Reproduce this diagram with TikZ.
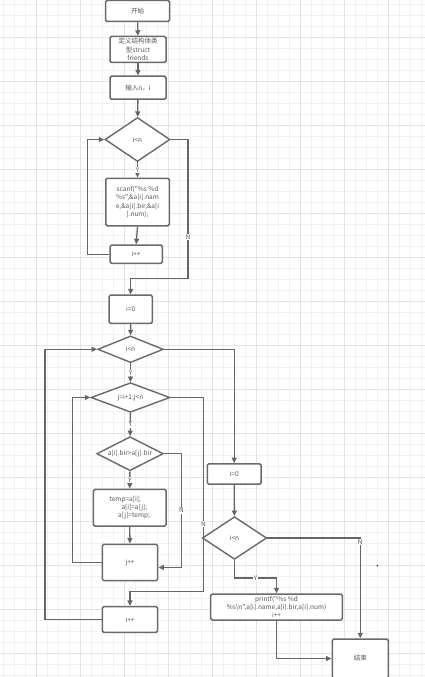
\documentclass[tikz,border=0pt]{standalone}
\usepackage{fontspec}
\newfontfamily\cjk{Noto Sans CJK SC}
\usepackage{xcolor}
\usepackage{tikz}
\usetikzlibrary{arrows.meta,positioning,shapes.geometric}
\definecolor{gridminor}{HTML}{F2F2F2}
\definecolor{gridmajor}{HTML}{E4E4E4}
\definecolor{boxgray}{HTML}{6A6A6A}
\definecolor{linegray}{HTML}{666666}
\definecolor{textgray}{HTML}{555555}
\tikzset{
  procbox/.style={draw=boxgray,line width=1.5pt,rounded corners=1.5pt,fill=white,
    inner sep=1pt,align=center,font=\cjk\fontsize{6.5}{8.3}\selectfont,text=textgray},
  decision/.style={diamond,aspect=2,draw=boxgray,line width=1.4pt,fill=white,inner sep=0pt,
    align=center,font=\cjk\fontsize{6.5}{8.3}\selectfont,text=textgray},
  flowarrow/.style={-{Triangle[length=5.5pt,width=5pt]},line width=1.3pt,draw=linegray},
  flowline/.style={line width=1.3pt,draw=linegray},
  edgelabel/.style={fill=white,inner sep=0.6pt,font=\cjk\fontsize{6.5}{7}\selectfont,text=textgray}
}

\begin{document}
\begin{tikzpicture}[x=1pt,y=-1pt]
\useasboundingbox (0,0) rectangle (425,677);
\fill[white] (0,0) rectangle (425,677);
% grid
\foreach \gx in {0,...,38}
  \draw[gridminor,line width=0.8pt] ({3.7+11*\gx},0) -- ({3.7+11*\gx},677);
\foreach \gy in {0,...,61}
  \draw[gridminor,line width=0.8pt] (0,{4.3+11*\gy}) -- (425,{4.3+11*\gy});
\foreach \gx in {0,...,8}
  \draw[gridmajor,line width=1pt] ({36.7+44*\gx},0) -- ({36.7+44*\gx},677);
\foreach \gy in {0,...,14}
  \draw[gridmajor,line width=1pt] (0,{37.3+44*\gy}) -- (425,{37.3+44*\gy});

% input part
\node[procbox,minimum width=64pt,minimum height=21pt] (start) at (137.5,11) {开始};
\node[procbox,minimum width=56pt,minimum height=26pt] (define) at (138,49.5) {定义结构体类\\型struct\\friends};
\node[procbox,minimum width=56pt,minimum height=23pt] (input) at (138,87.7) {输入n，i};
\node[decision,minimum width=65pt,minimum height=44pt] (readtest) at (137.5,139.5) {i<n};
\node[procbox,minimum width=63.5pt,minimum height=47.5pt] (scan) at (137.5,202)
  {scanf("\%s \%d\\\%s",\&a[i].nam\\e,\&a[i].bir,\&a[i\\].num);};
\node[procbox,minimum width=52.3pt,minimum height=18.3pt] (readinc) at (136.2,254.2) {i++};

% sorting part
\node[procbox,minimum width=43.3pt,minimum height=28.3pt] (sortinit) at (130.7,309.2) {i=0};
\node[decision,minimum width=65.6pt,minimum height=26.7pt] (outertest) at (130.5,349.3) {i<n};
\node[decision,minimum width=79pt,minimum height=29.6pt] (innertest) at (130.5,397.5) {j=i+1;j<n};
\node[decision,minimum width=66.6pt,minimum height=34pt] (cmp) at (130,453.7) {a[i].bir>a[j].bir};
\node[procbox,minimum width=72.7pt,minimum height=36.7pt,align=left] (swap) at (129.7,507.7)
  {temp=a[i];\\\hspace*{12pt}a[i]=a[j];\\\hspace*{8.5pt}a[j]=temp;};
\node[procbox,minimum width=55.4pt,minimum height=36.4pt] (jinc) at (130,562.5) {j++};
\node[procbox,minimum width=55.4pt,minimum height=25.6pt] (iinc) at (130,619.5) {i++};

% output part
\node[procbox,minimum width=53.7pt,minimum height=20.4pt] (printinit) at (234.2,474) {i=0};
\node[decision,minimum width=64.4pt,minimum height=42.6pt] (printtest) at (234.5,538) {i<n};
\node[procbox,minimum width=131.6pt,minimum height=26pt] (print) at (276.5,607)
  {printf("\%s \%d\\\%s\textbackslash n",a[i].name,a[i].bir,a[i].num)\\i++};
\node[procbox,minimum width=56pt,minimum height=39pt] (stop) at (360.3,658.5) {结束};

\draw[flowarrow] (start) -- (define);
\draw[flowarrow] (define) -- (input);
\draw[flowarrow] (input) -- (readtest);
\draw[flowarrow] (readtest) -- node[edgelabel]{Y} (scan);
\draw[flowarrow] (scan.south) -- (readinc.north);
\draw[flowarrow] (readinc.west) -- ++(-21.7,0) |- (readtest.west);
\draw[flowarrow] (readtest.east) -- ++(17.3,0) -- node[edgelabel,pos=0.7]{N} ++(0,138.8) -| (sortinit.north);

\draw[flowarrow] (sortinit) -- (outertest);
\draw[flowarrow] (outertest) -- node[edgelabel]{Y} (innertest);
\draw[flowarrow] (innertest) -- node[edgelabel]{Y} (cmp);
\draw[flowarrow] (cmp) -- node[edgelabel]{Y} (swap);
\draw[flowarrow] (swap) -- (jinc);
\draw[flowarrow] (cmp.east) -- ++(17.4,0) |- node[edgelabel,pos=0.25]{N} ([yshift=-5pt]jinc.east);
\draw[flowarrow] (jinc.west) -- ++(-29,0) |- (innertest.west);
\draw[flowarrow] (innertest.east) -- ++(32.7,0) -- node[edgelabel,pos=0.65]{N} ++(0,194.2) -| (iinc.north);
\draw[flowarrow] (iinc.west) -- ++(-56.6,0) |- (outertest.west);
\draw[flowarrow] (outertest.east) -| (printinit.north);

\draw[flowarrow] (printinit) -- (printtest);
\draw[flowarrow] (printtest.south) -- ++(0,18) -| node[edgelabel,pos=0.25]{Y} (print.north);
\draw[flowarrow] (print.south) |- (stop.west);
\draw[flowarrow] (printtest.east) -| node[edgelabel,pos=0.52]{N} (stop.north);

\fill[blue] (377.3,565.7) circle (0.8pt);
\end{tikzpicture}
\end{document}
